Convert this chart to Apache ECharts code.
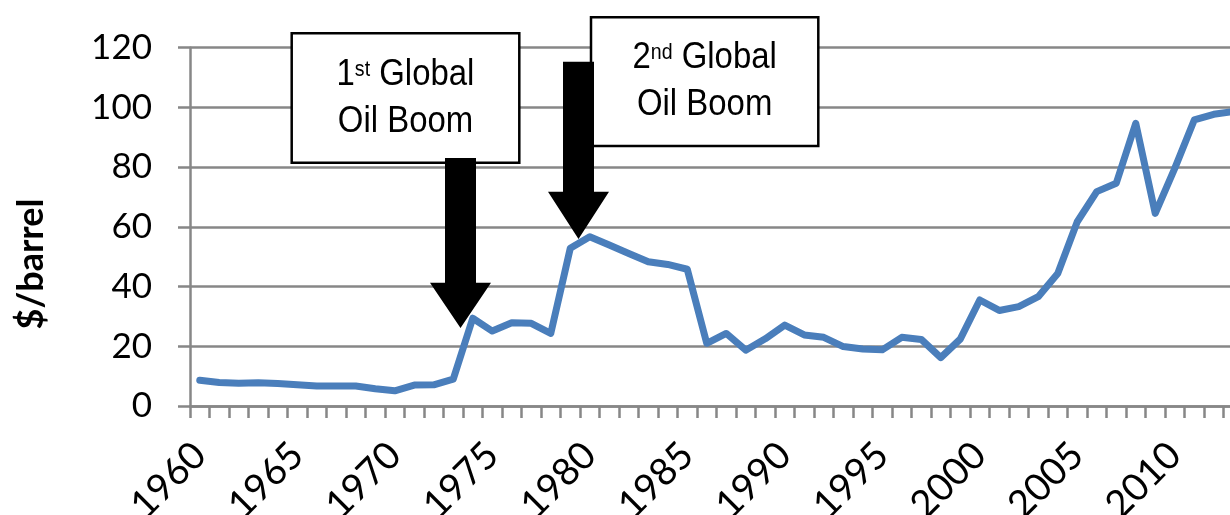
<!DOCTYPE html>
<html>
<head>
<meta charset="utf-8">
<script src="https://cdn.jsdelivr.net/npm/echarts@6/dist/echarts.min.js"></script>
<style>
  html, body { margin: 0; padding: 0; background: #ffffff; }
  #chart { width: 1230px; height: 515px; }
</style>
</head>
<body>
<div id="chart"></div>
<script>
// Crude oil price, $/barrel, yearly
const years = [
  '1960','1961','1962','1963','1964','1965','1966','1967','1968','1969',
  '1970','1971','1972','1973','1974','1975','1976','1977','1978','1979',
  '1980','1981','1982','1983','1984','1985','1986','1987','1988','1989',
  '1990','1991','1992','1993','1994','1995','1996','1997','1998','1999',
  '2000','2001','2002','2003','2004','2005','2006','2007','2008','2009',
  '2010','2011','2012','2013'
];
const prices = [
  8.6, 7.9, 7.6, 7.8, 7.5, 7.1, 6.7, 6.7, 6.7, 5.8,
  5.1, 7.0, 7.1, 9.0, 29.4, 25.1, 27.9, 27.7, 24.3, 52.8,
  56.7, 53.9, 51.1, 48.3, 47.4, 45.8, 21.0, 24.3, 18.7, 22.5,
  27.1, 23.8, 23.0, 19.9, 19.1, 18.8, 23.0, 22.3, 16.2, 22.4,
  35.5, 32.0, 33.3, 36.6, 44.4, 61.7, 71.8, 74.6, 94.7, 64.5,
  79.6, 95.8, 97.7, 98.6
];
const yTicks = [0, 20, 40, 60, 80, 100, 120];
const axisTitle = '$/barrel';
const boomNotes = [
  { num: '1', sup: 'st', line1: ' Global', line2: 'Oil Boom' },
  { num: '2', sup: 'nd', line1: ' Global', line2: 'Oil Boom' }
];

const chart = echarts.init(document.getElementById('chart'));

const GRAY = '#878787';
const labelFont = 'Lato, "Open Sans", sans-serif';
const boxFont = '"Liberation Sans", Arial, sans-serif';

// Text box with a superscript ordinal; the lettering is slightly condensed
function noteBox(note, x, y, w, h) {
  return {
    type: 'group',
    children: [
      {
        type: 'rect',
        shape: { x: x, y: y, width: w, height: h },
        style: { fill: '#ffffff', stroke: '#000000', lineWidth: 2.5 },
        z: 10
      },
      {
        type: 'text',
        x: x + w / 2,
        y: y + h / 2,
        scaleX: 0.89,
        z: 11,
        style: {
          text: '{n|' + note.num + '}{s|' + note.sup + '}{n|' + note.line1 + '}\n{n|' + note.line2 + '}',
          align: 'center',
          verticalAlign: 'middle',
          fill: '#000000',
          rich: {
            n: { fontFamily: boxFont, fontSize: 37, lineHeight: 47, fill: '#000000' },
            s: { fontFamily: boxFont, fontSize: 22, lineHeight: 22, fill: '#000000', verticalAlign: 'middle', padding: [0, 0, 10, 0] }
          }
        }
      }
    ]
  };
}

// Downward block arrow
function arrow(cx, top, headTop, tip) {
  const sw = 15.5, hw = 30.5;
  return {
    type: 'polygon',
    z: 12,
    shape: {
      points: [
        [cx - sw, top], [cx + sw, top], [cx + sw, headTop], [cx + hw, headTop],
        [cx, tip], [cx - hw, headTop], [cx - sw, headTop]
      ]
    },
    style: { fill: '#000000' }
  };
}

const option = {
  animation: false,
  backgroundColor: '#ffffff',
  // the plot runs slightly past the right edge of the canvas
  grid: { left: 190, top: 47.7, height: 358.3, width: 1053, outerBoundsMode: 'none', containLabel: false },
  xAxis: {
    type: 'category',
    data: years,
    boundaryGap: true,
    axisLine: { show: true, lineStyle: { color: GRAY, width: 2.5 } },
    axisTick: { show: true, interval: 0, length: 12, lineStyle: { color: GRAY, width: 2.5 } },
    axisLabel: {
      interval: 4,
      rotate: 45,
      margin: 43,
      color: '#000000',
      fontFamily: labelFont,
      fontSize: 38
    },
    splitLine: { show: false }
  },
  yAxis: {
    type: 'value',
    min: yTicks[0],
    max: yTicks[yTicks.length - 1],
    interval: yTicks[1] - yTicks[0],
    axisLine: { show: true, lineStyle: { color: GRAY, width: 2.5 } },
    axisTick: { show: true, length: 12, lineStyle: { color: GRAY, width: 2.5 } },
    axisLabel: {
      margin: 38,
      color: '#000000',
      fontFamily: labelFont,
      fontSize: 35
    },
    splitLine: { show: true, lineStyle: { color: GRAY, width: 2.5 } }
  },
  series: [{
    type: 'line',
    data: prices,
    showSymbol: false,
    symbol: 'none',
    lineStyle: { color: '#4a7ebb', width: 7, join: 'round', cap: 'round' },
    z: 5
  }],
  graphic: [
    {
      type: 'text',
      x: 31,
      y: 264,
      rotation: Math.PI / 2,
      style: {
        text: axisTitle,
        align: 'center',
        verticalAlign: 'middle',
        fontFamily: labelFont,
        fontWeight: 'bold',
        fontSize: 36,
        fill: '#000000'
      }
    },
    noteBox(boomNotes[0], 291.7, 33.3, 227.6, 129.4),
    noteBox(boomNotes[1], 591, 17.3, 227.3, 128.7),
    arrow(460.5, 158, 282.7, 328),
    arrow(578.5, 61.7, 191.7, 239)
  ]
};

chart.setOption(option);
</script>
</body>
</html>
